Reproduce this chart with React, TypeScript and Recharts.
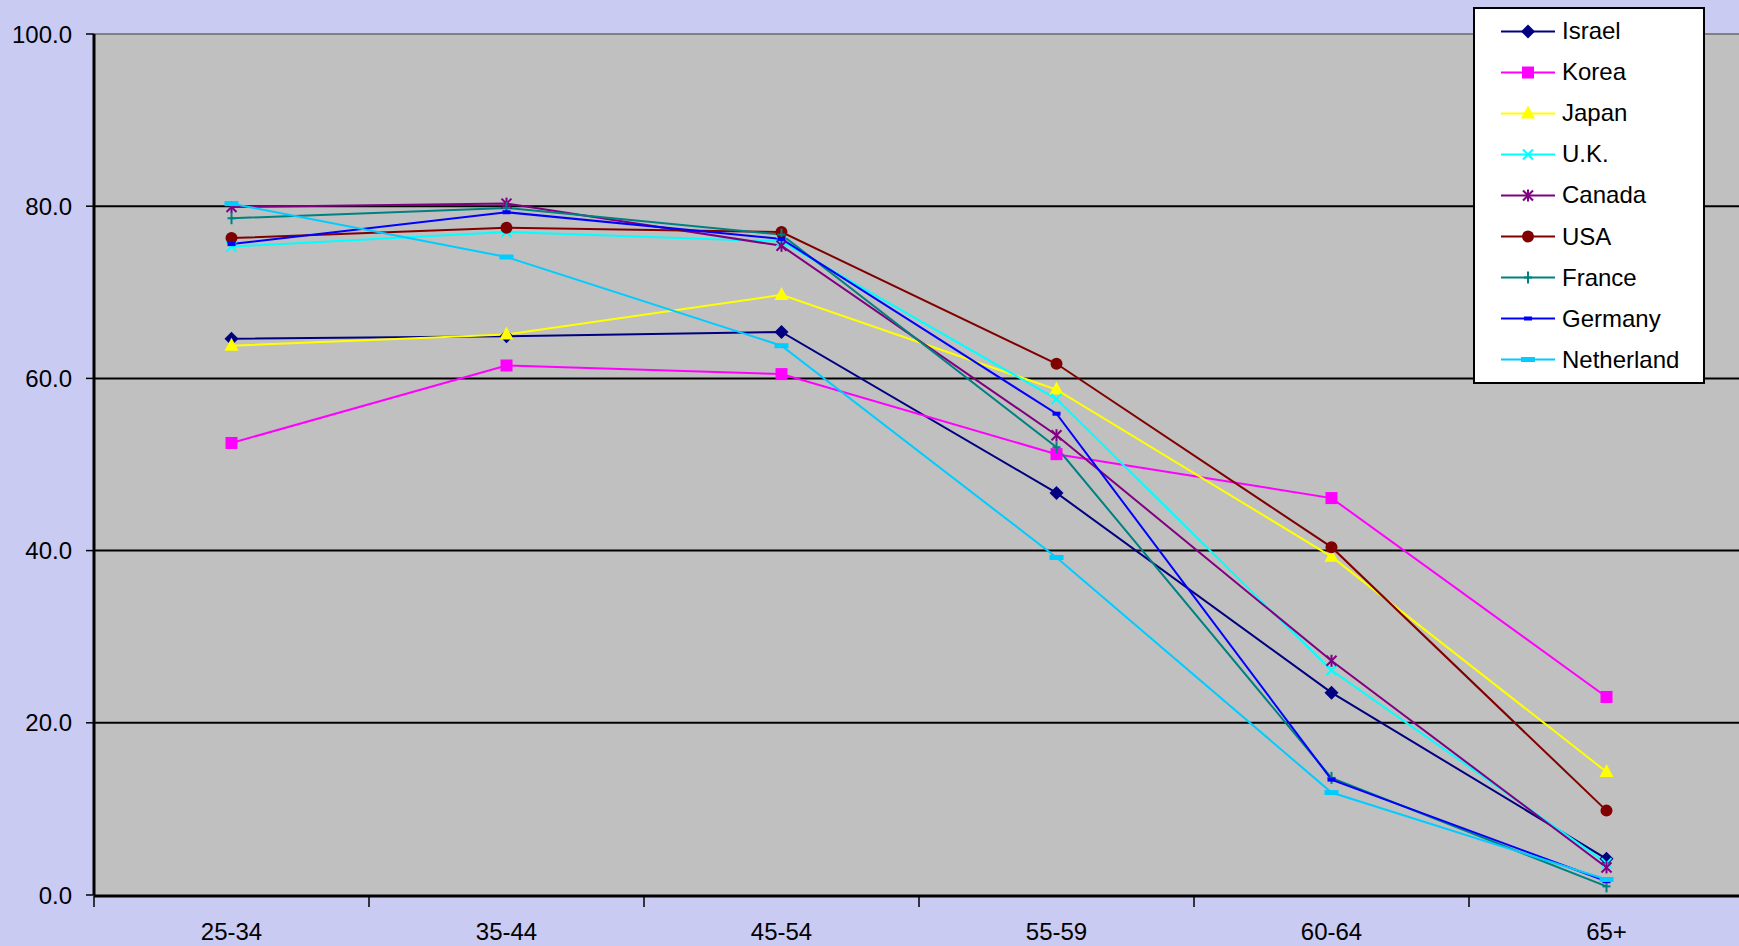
import {
  LineChart,
  Line,
  XAxis,
  YAxis,
  CartesianGrid,
  ReferenceLine,
  Legend,
} from "recharts";

const categories = ["25-34", "35-44", "45-54", "55-59", "60-64", "65+"];

const israel = [64.6, 64.9, 65.4, 46.7, 23.5, 4.2];
const korea = [52.5, 61.5, 60.5, 51.2, 46.1, 23.0];
const japan = [63.8, 65.1, 69.7, 58.7, 39.3, 14.3];
const uk = [75.3, 77.0, 75.9, 57.6, 26.1, 3.7];
const canada = [79.9, 80.3, 75.4, 53.4, 27.2, 3.2];
const usa = [76.3, 77.5, 77.0, 61.7, 40.4, 9.8];
const france = [78.6, 79.8, 76.7, 52.0, 13.6, 1.0];
const germany = [75.6, 79.3, 76.2, 55.9, 13.4, 1.6];
const netherland = [80.3, 74.1, 63.8, 39.2, 11.9, 1.8];

const yTicks = [0, 20, 40, 60, 80, 100];

const series = [
  { name: "Israel", values: israel, color: "#000080", shape: "diamond" },
  { name: "Korea", values: korea, color: "#FF00FF", shape: "square" },
  { name: "Japan", values: japan, color: "#FFFF00", shape: "triangle" },
  { name: "U.K.", values: uk, color: "#00FFFF", shape: "x" },
  { name: "Canada", values: canada, color: "#800080", shape: "star" },
  { name: "USA", values: usa, color: "#800000", shape: "circle" },
  { name: "France", values: france, color: "#008080", shape: "plus" },
  { name: "Germany", values: germany, color: "#0000FF", shape: "dash" },
  { name: "Netherland", values: netherland, color: "#00CCFF", shape: "wide" },
];

const data = categories.map((c, i) => {
  const row: Record<string, number | string> = { x: i + 0.5, cat: c };
  series.forEach((s) => {
    row[s.name] = s.values[i];
  });
  return row;
});

const font = "'Liberation Sans', Arial, sans-serif";

const Marker = ({ shape, cx, cy, color }: { shape: string; cx: number; cy: number; color: string }) => {
  switch (shape) {
    case "diamond":
      return <polygon points={`${cx},${cy - 7} ${cx + 7},${cy} ${cx},${cy + 7} ${cx - 7},${cy}`} fill={color} />;
    case "square":
      return <rect x={cx - 6} y={cy - 6} width={12} height={12} fill={color} />;
    case "triangle":
      return <polygon points={`${cx},${cy - 8} ${cx + 7},${cy + 5} ${cx - 7},${cy + 5}`} fill={color} />;
    case "x":
      return (
        <g stroke={color} strokeWidth={2}>
          <line x1={cx - 5} y1={cy - 5} x2={cx + 5} y2={cy + 5} />
          <line x1={cx - 5} y1={cy + 5} x2={cx + 5} y2={cy - 5} />
        </g>
      );
    case "star":
      return (
        <g stroke={color} strokeWidth={2}>
          <line x1={cx - 5} y1={cy - 5} x2={cx + 5} y2={cy + 5} />
          <line x1={cx - 5} y1={cy + 5} x2={cx + 5} y2={cy - 5} />
          <line x1={cx} y1={cy - 6} x2={cx} y2={cy + 6} />
        </g>
      );
    case "circle":
      return <circle cx={cx} cy={cy} r={6} fill={color} />;
    case "plus":
      return (
        <g stroke={color} strokeWidth={2}>
          <line x1={cx - 4} y1={cy} x2={cx + 4} y2={cy} />
          <line x1={cx} y1={cy - 6} x2={cx} y2={cy + 6} />
        </g>
      );
    case "dash":
      return <rect x={cx - 4} y={cy - 2} width={8} height={4} fill={color} />;
    case "wide":
      return <rect x={cx - 7} y={cy - 2.5} width={14} height={5} fill={color} />;
    default:
      return null;
  }
};

const LegendBox = () => (
  <div
    style={{
      width: 232,
      height: 377,
      boxSizing: "border-box",
      border: "2px solid #000",
      background: "#fff",
      paddingTop: 1.5,
      fontFamily: font,
      fontSize: 24,
      color: "#000",
    }}
  >
    {series.map((s) => (
      <div key={s.name} style={{ display: "flex", alignItems: "center", height: 41.1 }}>
        <svg width={80} height={41} style={{ flex: "none" }}>
          <line x1={26} y1={20.5} x2={80} y2={20.5} stroke={s.color} strokeWidth={2} />
          <Marker shape={s.shape} cx={53} cy={20.5} color={s.color} />
        </svg>
        <span style={{ marginLeft: 7, lineHeight: 1 }}>{s.name}</span>
      </div>
    ))}
  </div>
);

export default function App() {
  return (
    <div
      style={{
        position: "fixed",
        left: 0,
        top: 0,
        width: 1739,
        height: 946,
        overflow: "hidden",
        background: "#CACBF3",
      }}
    >
      <LineChart
        width={1744}
        height={946}
        data={data}
        margin={{ top: 34, right: 0, bottom: 49, left: 0 }}
      >
        <CartesianGrid
          xAxisId="cat"
          vertical={false}
          horizontalValues={[20, 40, 60, 80]}
          stroke="#000"
          strokeWidth={2}
          fill="#C0C0C0"
          fillOpacity={1}
        />
        <ReferenceLine xAxisId="cat" y={100} stroke="#808080" strokeWidth={2} />
        <XAxis
          xAxisId="edge"
          type="number"
          dataKey="x"
          domain={[0, 6]}
          allowDataOverflow
          ticks={[0, 1, 2, 3, 4, 5, 6]}
          interval={0}
          tickFormatter={() => ""}
          tick={{ fill: "none", fontSize: 1 }}
          tickSize={11}
          height={1}
          axisLine={{ stroke: "#000", strokeWidth: 3 }}
          tickLine={{ stroke: "#000", strokeWidth: 1.5 }}
        />
        <XAxis
          xAxisId="cat"
          type="number"
          dataKey="x"
          domain={[0, 6]}
          allowDataOverflow
          ticks={categories.map((_, i) => i + 0.5)}
          tickFormatter={(v: number) => categories[Math.floor(v)]}
          interval={0}
          height={1}
          axisLine={false}
          tickLine={false}
          tickSize={6}
          tickMargin={22}
          tick={{ fill: "#000", fontSize: 24, fontFamily: font }}
        />
        <YAxis
          width={94}
          domain={[0, 100]}
          ticks={yTicks}
          interval={0}
          tickFormatter={(v: number) => v.toFixed(1)}
          tickSize={8}
          tickMargin={14}
          axisLine={{ stroke: "#000", strokeWidth: 3 }}
          tickLine={{ stroke: "#000", strokeWidth: 1.5 }}
          tick={{ fill: "#000", fontSize: 24, fontFamily: font }}
        />
        {series.map((s) => (
          <Line
            key={s.name}
            xAxisId="cat"
            type="linear"
            dataKey={s.name}
            stroke={s.color}
            strokeWidth={2}
            isAnimationActive={false}
            dot={(p: any) => (
              <Marker key={`${s.name}-${p.index}`} shape={s.shape} cx={p.cx} cy={p.cy} color={s.color} />
            )}
            activeDot={false}
          />
        ))}
        <Legend
          layout="vertical"
          align="center"
          verticalAlign="middle"
          wrapperStyle={{ left: 1473, top: 7, width: 232, height: 377 }}
          content={() => <LegendBox />}
        />
      </LineChart>
    </div>
  );
}
